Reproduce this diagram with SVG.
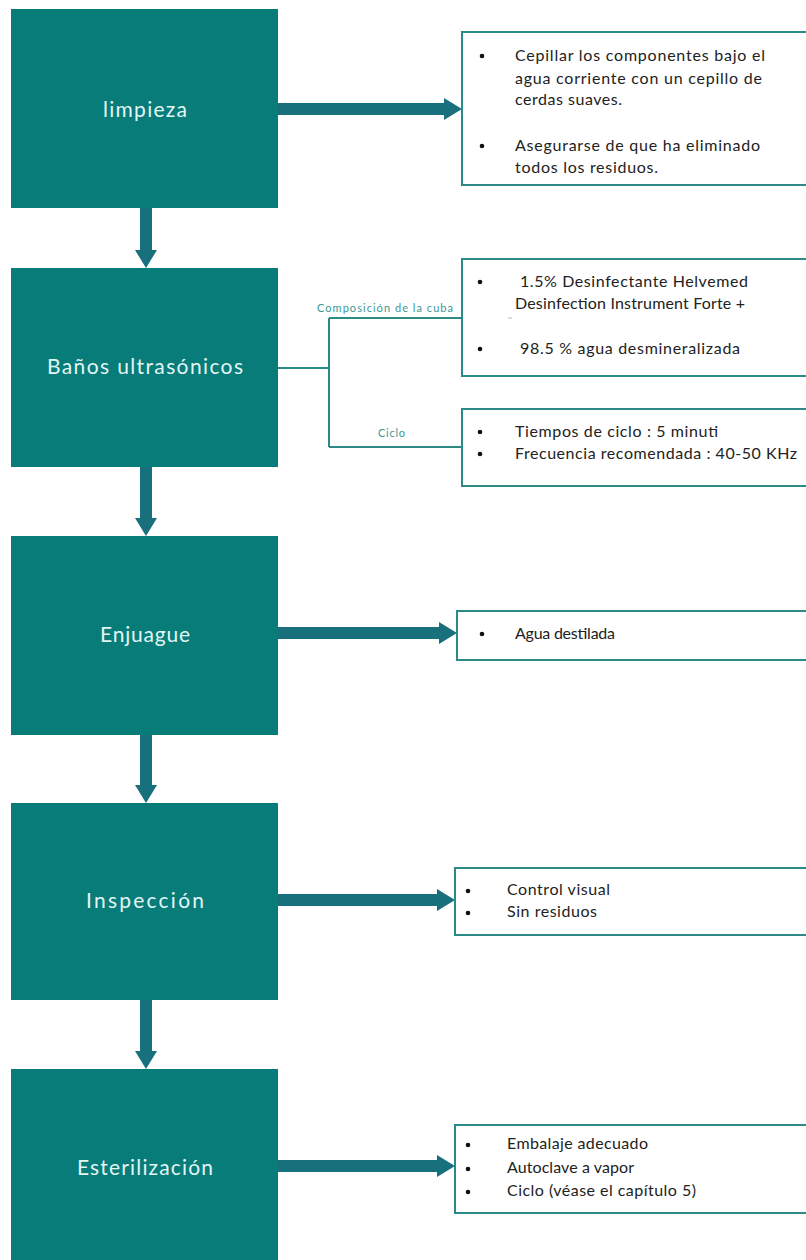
<svg xmlns="http://www.w3.org/2000/svg" width="806" height="1260" viewBox="0 0 806 1260">
<style>
.step{fill:#077c79}
.ttl{font-family:Lato,"Noto Sans",sans-serif;font-size:21px;fill:#e2f6f4;text-anchor:middle}
.arr{fill:#17707c}
.tbox{fill:#ffffff;stroke:#2b8a86;stroke-width:2}
.txt{font-family:Lato,"Noto Sans",sans-serif;font-size:16px;fill:#222}
.bul{fill:#111}
.con{fill:none;stroke:#2b8a86;stroke-width:2}
.lbl{font-family:Lato,"Noto Sans",sans-serif;font-size:11px;fill:#3a9893}
</style>
<rect width="806" height="1260" fill="#ffffff"/>
<g id="connectors">
  <path class="arr" d="M140,208 V250 H135 L146,268 L157,250 H152 V208 Z"/>
  <path class="arr" d="M140,467 V518 H135 L146,536 L157,518 H152 V467 Z"/>
  <path class="arr" d="M140,735 V785 H135 L146,803 L157,785 H152 V735 Z"/>
  <path class="arr" d="M140,1000 V1051 H135 L146,1069 L157,1051 H152 V1000 Z"/>
  <path class="arr" d="M278,103 H444 V98 L462,109 L444,120 V115 H278 Z"/>
  <path class="arr" d="M278,627 H439 V622 L457,633 L439,644 V639 H278 Z"/>
  <path class="arr" d="M278,894 H437 V889 L455,900 L437,911 V906 H278 Z"/>
  <path class="arr" d="M278,1160 H437 V1155 L455,1166 L437,1177 V1172 H278 Z"/>
  <path class="con" d="M278,368 H329 M329,318 V447 M329,318 H462 M329,447 H462"/>
  <text class="lbl" x="317" y="312" textLength="136" lengthAdjust="spacing">Composición de la cuba</text>
  <text class="lbl" x="378" y="437" textLength="27" lengthAdjust="spacing">Ciclo</text>
</g>
<g id="limpieza">
  <rect class="step" x="11" y="9" width="267" height="199"/>
  <text class="ttl" x="145" y="117" textLength="84" lengthAdjust="spacing">limpieza</text>
</g>
<g id="limpieza-detalle">
  <rect class="tbox" x="462" y="32" width="350" height="153"/>
  <circle class="bul" cx="482" cy="56" r="2.3"/>
  <circle class="bul" cx="482" cy="146" r="2.3"/>
  <text class="txt" x="515" y="61" textLength="250" lengthAdjust="spacing">Cepillar los componentes bajo el</text>
  <text class="txt" x="515" y="84" textLength="247" lengthAdjust="spacing">agua corriente con un cepillo de</text>
  <text class="txt" x="515" y="105" textLength="107" lengthAdjust="spacing">cerdas suaves.</text>
  <text class="txt" x="515" y="151" textLength="245" lengthAdjust="spacing">Asegurarse de que ha eliminado</text>
  <text class="txt" x="515" y="173" textLength="143" lengthAdjust="spacing">todos los residuos.</text>
</g>
<g id="banos">
  <rect class="step" x="11" y="268" width="267" height="199"/>
  <text class="ttl" x="145" y="374" textLength="196" lengthAdjust="spacing">Baños ultrasónicos</text>
</g>
<g id="banos-composicion">
  <rect class="tbox" x="462" y="259" width="350" height="117"/>
  <circle class="bul" cx="480" cy="282" r="2.3"/>
  <circle class="bul" cx="480" cy="349" r="2.3"/>
  <text class="txt" x="520" y="287" textLength="228" lengthAdjust="spacing">1.5% Desinfectante Helvemed</text>
  <text class="txt" x="515" y="309" textLength="230" lengthAdjust="spacing">Desinfection Instrument Forte +</text>
  <line x1="508" y1="318" x2="512" y2="318" stroke="#bbbbbb" stroke-width="1"/>
  <text class="txt" x="520" y="354" textLength="220" lengthAdjust="spacing">98.5 % agua desmineralizada</text>
</g>
<g id="banos-ciclo">
  <rect class="tbox" x="462" y="409" width="350" height="77"/>
  <circle class="bul" cx="480" cy="432" r="2.3"/>
  <circle class="bul" cx="480" cy="454" r="2.3"/>
  <text class="txt" x="515" y="437" textLength="203" lengthAdjust="spacing">Tiempos de ciclo : 5 minuti</text>
  <text class="txt" x="515" y="459" textLength="282" lengthAdjust="spacing">Frecuencia recomendada : 40-50 KHz</text>
</g>
<g id="enjuague">
  <rect class="step" x="11" y="536" width="267" height="199"/>
  <text class="ttl" x="145" y="642" textLength="90" lengthAdjust="spacing">Enjuague</text>
</g>
<g id="enjuague-detalle">
  <rect class="tbox" x="457" y="611" width="355" height="49"/>
  <circle class="bul" cx="482" cy="634" r="2.3"/>
  <text class="txt" x="515" y="639" textLength="100" lengthAdjust="spacing">Agua destilada</text>
</g>
<g id="inspeccion">
  <rect class="step" x="11" y="803" width="267" height="197"/>
  <text class="ttl" x="145" y="908" textLength="118" lengthAdjust="spacing">Inspección</text>
</g>
<g id="inspeccion-detalle">
  <rect class="tbox" x="455" y="868" width="357" height="67"/>
  <circle class="bul" cx="468" cy="891" r="2.3"/>
  <circle class="bul" cx="468" cy="913" r="2.3"/>
  <text class="txt" x="507" y="895" textLength="103" lengthAdjust="spacing">Control visual</text>
  <text class="txt" x="507" y="917" textLength="90" lengthAdjust="spacing">Sin residuos</text>
</g>
<g id="esterilizacion">
  <rect class="step" x="11" y="1069" width="267" height="200"/>
  <text class="ttl" x="145" y="1175" textLength="136" lengthAdjust="spacing">Esterilización</text>
</g>
<g id="esterilizacion-detalle">
  <rect class="tbox" x="455" y="1125" width="357" height="88"/>
  <circle class="bul" cx="468" cy="1145" r="2.3"/>
  <circle class="bul" cx="468" cy="1169" r="2.3"/>
  <circle class="bul" cx="468" cy="1192" r="2.3"/>
  <text class="txt" x="507" y="1149" textLength="141" lengthAdjust="spacing">Embalaje adecuado</text>
  <text class="txt" x="507" y="1173" textLength="127" lengthAdjust="spacing">Autoclave a vapor</text>
  <text class="txt" x="507" y="1196" textLength="189" lengthAdjust="spacing">Ciclo (véase el capítulo 5)</text>
</g>
</svg>
